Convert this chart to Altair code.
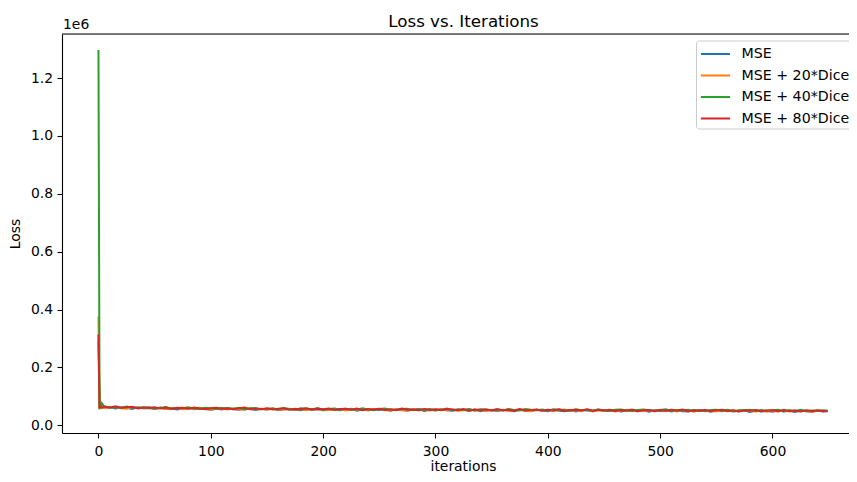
import altair as alt
import pandas as pd

series_names = ["MSE", "MSE + 20*Dice", "MSE + 40*Dice", "MSE + 80*Dice"]
series_colors = ["#1f77b4", "#ff7f0e", "#2ca02c", "#d62728"]

iterations = [0, 1, 2, 3] + list(range(5, 650, 5)) + [649]

# loss values in thousands
mse_k = [290.0, 61.0, 59.5, 62.0,
         60.5, 63.0, 58.0, 61.8, 60.5, 56.7, 62.0, 58.7, 60.0, 56.7,
         61.0, 56.8, 59.1, 54.9, 58.2, 59.5, 55.3, 58.6, 56.4, 54.2,
         57.5, 54.4, 59.3, 55.2, 53.6, 57.5, 56.3, 52.6, 57.4, 54.8,
         57.2, 52.1, 55.5, 56.4, 53.3, 52.2, 57.1, 54.0, 55.4, 52.3,
         53.2, 56.6, 52.0, 54.4, 56.8, 50.7, 54.6, 52.0, 55.4, 52.8,
         54.7, 50.7, 55.1, 52.1, 51.0, 54.0, 55.9, 49.9, 53.3, 51.3,
         54.7, 51.6, 50.0, 53.9, 52.8, 50.2, 54.6, 49.0, 52.9, 52.3,
         49.7, 53.1, 52.0, 48.5, 53.9, 50.4, 49.3, 53.3, 52.2, 48.7,
         53.6, 50.5, 49.0, 52.4, 47.9, 52.8, 51.3, 49.2, 53.7, 49.6,
         49.0, 52.5, 47.9, 51.4, 50.8, 48.3, 52.7, 47.2, 51.6, 49.6,
         52.0, 48.0, 50.9, 48.9, 47.3, 52.8, 49.2, 51.2, 46.6, 50.6,
         48.5, 52.0, 47.4, 49.9, 50.8, 46.3, 51.2, 47.7, 50.1, 46.6,
         51.0, 47.5, 49.9, 46.4, 51.3, 48.3, 46.8, 50.2, 47.7,
         48.9]

dice20_k = [376.0, 60.0, 58.5, 61.5,
            59.5, 62.5, 63.0, 59.3, 57.5, 62.7, 60.5, 58.7, 62.5, 57.2,
            60.5, 56.8, 59.1, 60.9, 55.7, 59.0, 56.3, 60.6, 56.9, 54.2,
            59.0, 57.4, 54.3, 58.2, 55.6, 53.5, 58.8, 55.6, 56.9, 53.8,
            58.7, 54.1, 55.0, 57.4, 52.8, 56.2, 52.1, 56.5, 55.4, 53.8,
            52.7, 57.1, 55.5, 51.4, 54.8, 53.2, 56.1, 51.5, 55.4, 56.8,
            52.2, 51.2, 55.6, 54.1, 50.5, 56.0, 52.4, 54.4, 51.3, 54.8,
            55.7, 52.1, 54.5, 50.4, 52.3, 55.7, 50.6, 53.0, 49.4, 53.3,
            51.2, 54.1, 49.5, 53.0, 54.4, 50.4, 48.8, 53.3, 51.2, 53.7,
            49.1, 52.5, 54.5, 49.9, 51.9, 49.3, 53.3, 48.2, 52.7, 50.6,
            52.5, 48.0, 51.4, 53.4, 48.8, 51.8, 49.2, 52.7, 48.1, 53.6,
            49.5, 52.0, 47.9, 52.4, 50.8, 47.3, 52.7, 48.7, 51.1, 48.1,
            52.0, 48.5, 50.9, 47.4, 52.8, 49.3, 47.7, 51.2, 46.6, 50.1,
            48.0, 52.0, 47.4, 50.4, 48.8, 51.3, 46.3, 50.7, 49.7,
            49.0]

dice40_k = [1297.0, 60.0, 62.5, 76.0,
            65.5, 61.5, 63.5, 59.8, 65.0, 61.2, 59.5, 62.7, 61.5, 57.7,
            59.5, 62.8, 57.6, 60.9, 59.2, 62.5, 57.8, 57.1, 60.9, 59.2,
            56.0, 59.9, 58.8, 57.2, 60.6, 55.0, 58.8, 59.6, 55.9, 56.8,
            58.2, 55.1, 59.5, 56.4, 53.8, 58.7, 57.1, 55.0, 59.4, 53.8,
            56.7, 58.1, 53.5, 57.4, 54.8, 53.7, 58.6, 55.0, 52.4, 56.3,
            57.7, 54.2, 53.1, 56.1, 57.0, 52.0, 55.4, 53.4, 56.3, 52.3,
            54.2, 57.6, 52.0, 55.4, 52.8, 56.2, 51.1, 55.5, 54.4, 51.8,
            55.2, 51.6, 56.0, 52.5, 50.9, 56.4, 53.8, 51.8, 54.2, 50.2,
            55.1, 53.5, 51.5, 49.9, 55.4, 52.3, 53.8, 50.7, 55.7, 51.6,
            50.5, 54.0, 54.9, 50.9, 49.3, 53.3, 54.2, 51.7, 49.6, 52.6,
            55.0, 49.5, 52.4, 50.9, 53.8, 49.8, 53.2, 48.7, 52.6, 54.1,
            50.0, 53.5, 48.4, 52.4, 50.8, 53.8, 49.2, 52.7, 50.1, 51.6,
            53.5, 49.0, 51.9, 49.4, 53.8, 48.3, 51.3, 49.7, 52.2,
            50.5]

dice80_k = [314.0, 62.0, 63.5, 61.0,
            64.5, 60.5, 65.5, 60.8, 62.0, 63.7, 58.5, 61.7, 60.0, 62.2,
            58.5, 61.8, 56.6, 59.9, 60.7, 57.0, 61.3, 58.1, 55.9, 59.2,
            61.0, 56.9, 58.3, 55.2, 59.1, 61.5, 55.3, 57.6, 55.4, 58.8,
            54.7, 57.6, 59.0, 53.4, 56.8, 55.2, 59.1, 54.5, 56.9, 55.3,
            57.7, 53.1, 56.0, 56.9, 53.8, 57.7, 52.1, 56.0, 54.4, 56.8,
            53.2, 55.7, 52.1, 57.6, 54.0, 55.0, 52.4, 56.4, 53.3, 55.8,
            51.7, 56.1, 54.5, 52.4, 56.3, 50.7, 54.6, 53.0, 54.9, 51.3,
            55.7, 52.1, 54.0, 50.5, 55.9, 51.4, 53.3, 54.8, 50.7, 53.7,
            51.1, 55.0, 50.0, 52.9, 53.9, 51.3, 55.3, 50.2, 53.2, 51.6,
            54.0, 49.5, 52.9, 50.9, 54.3, 48.8, 52.2, 53.2, 49.6, 52.6,
            50.0, 53.5, 50.9, 54.4, 48.8, 52.3, 50.2, 53.2, 49.1, 51.6,
            53.5, 49.5, 51.9, 47.9, 52.4, 50.4, 52.8, 48.8, 51.2, 52.1,
            48.5, 53.0, 49.4, 51.4, 47.8, 52.3, 49.8, 51.7, 48.7,
            50.4]

x_ticks = [0, 100, 200, 300, 400, 500, 600]
y_ticks = [0, 200000, 400000, 600000, 800000, 1000000, 1200000]

rows = []
for name, vals in zip(series_names, [mse_k, dice20_k, dice40_k, dice80_k]):
    for it, v in zip(iterations, vals):
        rows.append({"iteration": it, "loss": v * 1000, "series": name})
df = pd.DataFrame(rows)

FONT = "DejaVu Sans"
W, H = 787, 399

lines = alt.Chart(df).mark_line(strokeWidth=2.0).encode(
    x=alt.X("iteration:Q",
            scale=alt.Scale(domain=[-32.45, 668.1], nice=False, zero=False),
            axis=alt.Axis(values=x_ticks, title="iterations", grid=False,
                          tickSize=5, tickWidth=1.1, tickColor="black",
                          domainColor="black", domainWidth=1.1,
                          labelBaseline="alphabetic", labelPadding=17.5,
                          labelFont=FONT, labelFontSize=13.9, labelColor="black",
                          titleFont=FONT, titleFontSize=13.9, titleColor="black",
                          titleFontWeight="normal", titleBaseline="alphabetic",
                          titleX=401, titleY=37.5)),
    y=alt.Y("loss:Q",
            scale=alt.Scale(domain=[-26600, 1352100], nice=False, zero=False),
            axis=alt.Axis(values=y_ticks, title="Loss", grid=False,
                          labelExpr="format(datum.value / 1000000, '.1f')",
                          tickSize=5, tickWidth=1.1, tickColor="black",
                          domainColor="black", domainWidth=1.1,
                          labelPadding=4.5,
                          labelFont=FONT, labelFontSize=13.9, labelColor="black",
                          titleFont=FONT, titleFontSize=13.9, titleColor="black",
                          titleFontWeight="normal", titleBaseline="middle",
                          titleX=-47, titleY=199.5)),
    color=alt.Color("series:N",
                    scale=alt.Scale(domain=series_names, range=series_colors),
                    sort=series_names,
                    legend=alt.Legend(title=None, orient="none", legendX=634, legendY=6.5,
                                      direction="vertical",
                                      symbolType="M-1.5,0L1.5,0", symbolSize=380,
                                      symbolStrokeWidth=2.0,
                                      labelFont=FONT, labelFontSize=14.2, labelColor="black",
                                      fillColor="white", strokeColor="#cccccc",
                                      cornerRadius=3, padding=2.5, rowPadding=2.5,
                                      labelOffset=15, symbolOffset=6)),
)

top_spine = alt.Chart(pd.DataFrame({"s": [0]})).mark_rule(
    color="black", strokeWidth=1.1
).encode(x=alt.value(0), x2=alt.value(W), y=alt.value(0))

offset_label = alt.Chart(pd.DataFrame({"t": ["1e6"]})).mark_text(
    align="left", baseline="alphabetic", font=FONT, fontSize=13.9, color="black"
).encode(text="t:N", x=alt.value(1), y=alt.value(-4.7))

chart = alt.layer(lines, top_spine, offset_label).properties(
    width=W, height=H,
    title=alt.TitleParams("Loss vs. Iterations", font=FONT, fontSize=16.7,
                          fontWeight="normal", color="black", anchor="middle",
                          baseline="alphabetic", offset=0, dy=25.7, dx=8),
    autosize=alt.AutoSizeParams(type="none"),
    padding={"left": 54, "top": 26, "right": 0, "bottom": 41},
).configure_view(strokeOpacity=0, strokeWidth=0).configure(background="white")

chart.save("out.html", embed_options={"renderer": "svg", "actions": False})
